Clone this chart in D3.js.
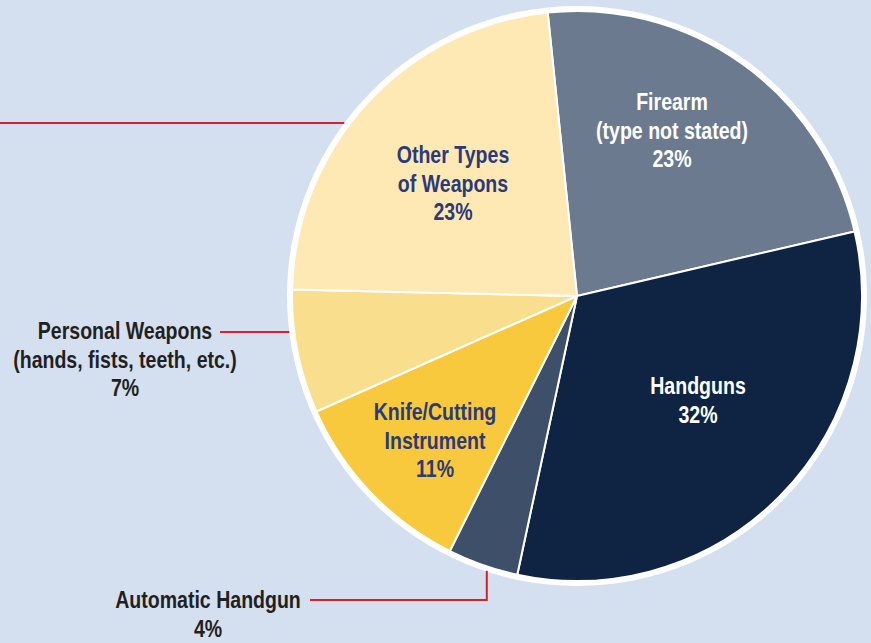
<!DOCTYPE html>
<html>
<head>
<meta charset="utf-8">
<script src="https://cdn.jsdelivr.net/npm/d3@7"></script>
<style>
  html, body { margin: 0; padding: 0; background: #d4e0ef; overflow: hidden; }
  svg { display: block; }
  text { font-family: "Liberation Sans", Arial, sans-serif; font-weight: bold; }
</style>
</head>
<body>
<div id="chart"></div>
<script>
// Datos (porcentajes, orden horario desde arriba)
const categories = ["Firearm (type not stated)", "Handguns", "Automatic Handgun", "Knife/Cutting Instrument", "Personal Weapons", "Other Types of Weapons"];
const values = [23, 32, 4, 11, 7, 23];
const colors = ["#6b7a8f", "#0f2443", "#3d4f69", "#f8c93c", "#f9de8d", "#fee9b5"];
const labelLines = [
  ["Firearm", "(type not stated)", "23%"],
  ["Handguns", "32%"],
  ["Automatic Handgun", "4%"],
  ["Knife/Cutting", "Instrument", "11%"],
  ["Personal Weapons", "(hands, fists, teeth, etc.)", "7%"],
  ["Other Types", "of Weapons", "23%"]
];

const width = 871, height = 643;
const cx = 577, cy = 296, radius = 285;
const startDeg = -5.9;

const svg = d3.select("#chart")
  .append("svg")
  .attr("width", width)
  .attr("height", height);

svg.append("rect").attr("width", width).attr("height", height).attr("fill", "#d4e0ef");

const g = svg.append("g").attr("transform", `translate(${cx},${cy})`);

const pie = d3.pie()
  .sort(null)
  .value(d => d)
  .startAngle(startDeg * Math.PI / 180)
  .endAngle(startDeg * Math.PI / 180 + 2 * Math.PI);

const arcs = pie(values);
const arc = d3.arc().innerRadius(0).outerRadius(radius);

// Anillo blanco exterior
g.append("circle").attr("r", radius + 5).attr("fill", "#fff");

g.selectAll("path.slice")
  .data(arcs)
  .join("path")
  .attr("class", "slice")
  .attr("d", arc)
  .attr("fill", (d, i) => colors[i])
  .attr("stroke", "#fff")
  .attr("stroke-width", 2)
  .attr("stroke-linejoin", "round");

// Líneas guía (rojas)
const red = "#d2232f";
const lead = svg.append("g").attr("stroke", red).attr("stroke-width", 2).attr("fill", "none");
const edgeX = y => cx - Math.sqrt((radius + 5) ** 2 - (y - cy) ** 2);
// "Other Types" – etiqueta fuera del cuadro
lead.append("line").attr("x1", 0).attr("x2", edgeX(123)).attr("y1", 123).attr("y2", 123);
// Personal Weapons
lead.append("line").attr("x1", 220).attr("x2", edgeX(332)).attr("y1", 332).attr("y2", 332);
// Automatic Handgun
const autoMid = (arcs[2].startAngle + arcs[2].endAngle) / 2;
const ax = cx + Math.sin(autoMid) * radius + 4;
lead.append("polyline")
  .attr("points", `310,600 ${ax},600 ${ax},${cy - Math.cos(autoMid) * (radius + 6)}`);

// Etiquetas (Arial Narrow simulada con escala horizontal)
const labelPos = [
  { x: 672, y: 102, fill: "#fff" },
  { x: 698, y: 386, fill: "#fff" },
  { x: 208, y: 600, fill: "#231f20" },
  { x: 435, y: 412, fill: "#2b3a78" },
  { x: 125, y: 331, fill: "#231f20" },
  { x: 453, y: 155, fill: "#2b3a78" }
];
const lineH = 28.5;
const narrow = 0.85;

labelLines.forEach((lines, i) => {
  const p = labelPos[i];
  const t = svg.append("text")
    .attr("transform", `translate(${p.x},0) scale(${narrow},1)`)
    .attr("text-anchor", "middle")
    .attr("fill", p.fill)
    .style("font-size", "23px");
  lines.forEach((s, j) => {
    t.append("tspan")
      .attr("x", 0)
      .attr("y", p.y + j * lineH)
      .attr("dy", "0.35em")
      .text(s);
  });
});
</script>
</body>
</html>
